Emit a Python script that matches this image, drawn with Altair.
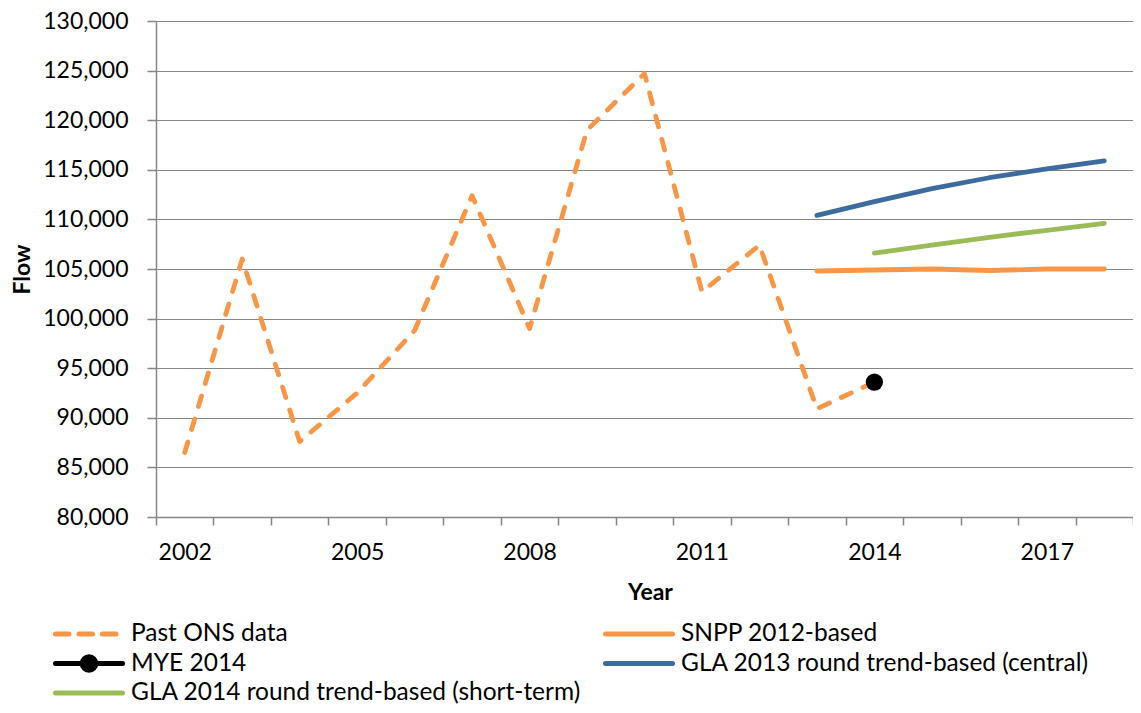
import altair as alt
import pandas as pd

# ---------------- data ----------------
names = [
    "Past ONS data",
    "SNPP 2012-based",
    "MYE 2014",
    "GLA 2013 round trend-based (central)",
    "GLA 2014 round trend-based (short-term)",
]
colors = ["#F79646", "#F79646", "#000000", "#3E6B9E", "#9BBB59"]

years_past = [2002, 2003, 2004, 2005, 2006, 2007, 2008, 2009, 2010, 2011, 2012, 2013, 2014]
past_ons = [86500, 106000, 87600, 92500, 98800, 112400, 99000, 119000, 124700, 102700, 107400, 90900, 93600]

years_snpp = [2013, 2014, 2015, 2016, 2017, 2018]
snpp = [104800, 104900, 105000, 104850, 105000, 105000]

years_gla2013 = [2013, 2014, 2015, 2016, 2017, 2018]
gla2013 = [110400, 111800, 113100, 114200, 115100, 115900]

years_gla2014 = [2014, 2015, 2016, 2017, 2018]
gla2014 = [106600, 107400, 108200, 108900, 109600]

years_mye = [2014]
mye = [93600]

label_years = [2002, 2005, 2008, 2011, 2014, 2017]
y_ticks = list(range(80000, 130001, 5000))

# ---------------- tables ----------------
rows = []
for nm, ys, vs in [
    (names[0], years_past, past_ons),
    (names[1], years_snpp, snpp),
    (names[2], years_mye, mye),
    (names[3], years_gla2013, gla2013),
    (names[4], years_gla2014, gla2014),
]:
    for yr, v in zip(ys, vs):
        rows.append({"series": nm, "year": yr, "value": v})
df = pd.DataFrame(rows)

leg_df = pd.DataFrame({
    "series": names,
    "col": [i % 2 for i in range(len(names))],
    "row": [i // 2 for i in range(len(names))],
})

# category boundaries (Excel style ticks between categories) + label positions
half_years = [y + 0.5 for y in range(2001, 2019)]
x_values = sorted(half_years + label_years)

FONT = "Lato"
GRAY = "#868686"

color_scale = alt.Scale(domain=names, range=colors)

x_enc = alt.X(
    "year:Q",
    scale=alt.Scale(domain=[2001.5, 2018.5], nice=False, zero=False),
    axis=alt.Axis(
        values=x_values,
        title="Year",
        grid=False,
        labelExpr="datum.value % 1 === 0 ? format(datum.value, 'd') : ''",
        tickOpacity={"condition": {"test": "datum.value % 1 === 0", "value": 0}, "value": 1},
        tickSize=8,
        labelPadding=16,
        labelFlush=False,
        labelOverlap=False,
        titleX=494,
        titleY=75,
        titleAlign="center",
        titleBaseline="middle",
    ),
)
y_enc = alt.Y(
    "value:Q",
    scale=alt.Scale(domain=[80000, 130000], nice=False, zero=False),
    axis=alt.Axis(
        values=y_ticks,
        format=",d",
        title="Flow",
        grid=True,
        tickSize=9,
        labelPadding=19,
        titleAngle=-90,
        titleX=-134,
        titleY=248,
        titleAlign="center",
        titleBaseline="middle",
    ),
)

base = alt.Chart(df).encode(
    x=x_enc,
    y=y_enc,
    color=alt.Color("series:N", scale=color_scale, legend=None),
)

past = base.transform_filter(alt.datum.series == names[0]).mark_line(
    strokeDash=[11, 13], strokeCap="round", strokeJoin="round", strokeWidth=4.8
)
solid = base.transform_filter(
    alt.FieldOneOfPredicate(field="series", oneOf=[names[1], names[3], names[4]])
).mark_line(strokeCap="round", strokeJoin="round", strokeWidth=4.8)
mye_pt = base.transform_filter(alt.datum.series == names[2]).mark_circle(size=300, opacity=1)

main = alt.layer(past, solid, mye_pt)

# ---------------- legend (two columns, row-major) ----------------
lx = alt.X("col:Q", scale=alt.Scale(domain=[0, 1], range=[-100.5, 449.5]), axis=None)
ly = alt.Y("row:Q", scale=alt.Scale(domain=[0, 2], range=[613, 672]), axis=None)

leg_base = alt.Chart(leg_df).encode(
    x=lx, y=ly, color=alt.Color("series:N", scale=color_scale, legend=None)
)
leg_dash = leg_base.transform_filter(alt.datum.series == names[0]).mark_rule(
    strokeWidth=5, strokeCap="round", strokeDash=[13.5, 10], x2Offset=67
).encode(x2=alt.X2("col:Q"))
leg_solid = leg_base.transform_filter(alt.datum.series != names[0]).mark_rule(
    strokeWidth=5, strokeCap="round", x2Offset=67
).encode(x2=alt.X2("col:Q"))
leg_dot = leg_base.transform_filter(alt.datum.series == names[2]).mark_circle(
    size=346, opacity=1, xOffset=33.5
)
leg_text = alt.Chart(leg_df).mark_text(
    align="left", baseline="middle", dx=75.5, font=FONT, fontSize=24.5, color="black"
).encode(x=lx, y=ly, text="series:N")

legend = alt.layer(leg_dash, leg_solid, leg_dot, leg_text)

chart = (
    alt.layer(main, legend)
    .resolve_scale(x="independent", y="independent")
    .properties(
        width=977,
        height=496,
        autosize=alt.AutoSizeParams(type="none"),
        padding={"left": 148, "top": 13, "right": 0, "bottom": 188},
    )
    .configure_view(stroke=None)
    .configure_axis(
        labelFont=FONT,
        labelFontSize=23,
        labelColor="black",
        titleFont=FONT,
        titleFontSize=23,
        titleFontWeight="bold",
        titleColor="black",
        domainColor=GRAY,
        domainWidth=1.5,
        tickColor=GRAY,
        tickWidth=1.5,
        gridColor=GRAY,
        gridWidth=1.2,
    )
)

chart.save("out.html", embed_options={"renderer": "svg", "actions": False})
